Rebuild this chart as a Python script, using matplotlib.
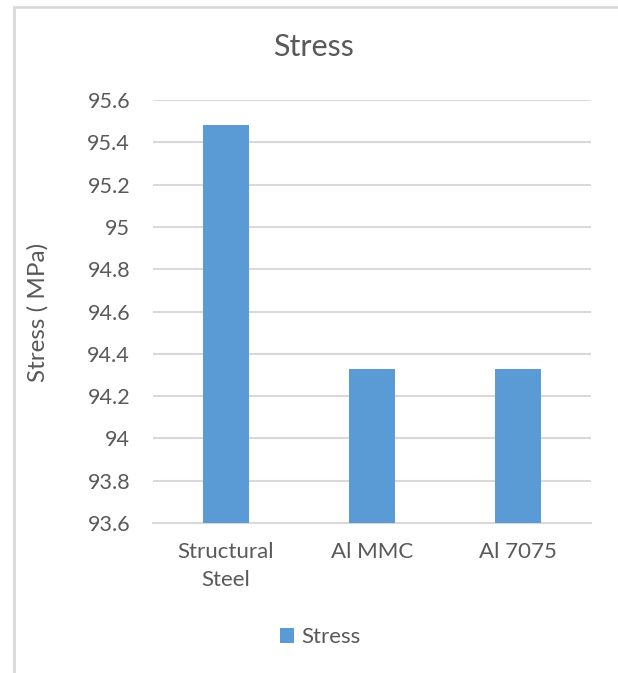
import matplotlib.pyplot as plt
from matplotlib.patches import Rectangle

# Data
materials = ['Structural\nSteel', 'Al MMC', 'Al 7075']
stress = [95.48, 94.33, 94.33]
yticks = [93.6, 93.8, 94.0, 94.2, 94.4, 94.6, 94.8, 95.0, 95.2, 95.4, 95.6]
ytick_labels = ['93.6', '93.8', '94', '94.2', '94.4', '94.6', '94.8', '95', '95.2', '95.4', '95.6']

plt.rcParams['font.family'] = ['Lato', 'DejaVu Sans']
txt = '#595959'
grid = '#d9d9d9'

fig = plt.figure(figsize=(6.18, 6.73), dpi=100)
ax = fig.add_axes([153 / 618, 1 - 523 / 673, 438 / 618, 423 / 673])

x = range(len(materials))
ax.bar(x, stress, width=0.31, color='#5b9bd5', label='Stress', zorder=3)

ax.set_ylim(93.6, 95.6)
ax.set_xlim(-0.5, 2.5)
ax.set_yticks(yticks)
ax.set_yticklabels(ytick_labels, fontsize=15.5)
ax.set_xticks(list(x))
ax.set_xticklabels(materials, linespacing=1.45, fontsize=16)
ax.tick_params(axis='both', length=0, colors=txt)
ax.tick_params(axis='y', pad=16.5)
ax.tick_params(axis='x', pad=14)
ax.grid(axis='y', color=grid, linewidth=1.5, zorder=0)
for s in ['top', 'right', 'left']:
    ax.spines[s].set_visible(False)
ax.spines['bottom'].set_color(grid)
ax.spines['bottom'].set_linewidth(1.5)

# axis title and chart title
fig.text(38 / 618, 1 - 312 / 673, 'Stress ( MPa)', fontsize=17.5, color=txt,
         rotation=90, ha='center', va='center')
fig.text(313 / 618, 1 - 47 / 673, 'Stress', fontsize=22, color=txt,
         ha='center', va='center')

fig.legend(loc='center', bbox_to_anchor=(320 / 618, 1 - 637 / 673), frameon=False,
           fontsize=16, labelcolor=txt, handlelength=0.65, handleheight=0.65,
           handletextpad=0.3)

# chart border (Excel style)
fig.patches.append(Rectangle((13.5 / 618, -0.1), 1.2, 1 - 7.5 / 673 + 0.1,
                             transform=fig.transFigure, fill=False,
                             edgecolor=grid, linewidth=2))

fig.savefig('out.png', dpi=100)
